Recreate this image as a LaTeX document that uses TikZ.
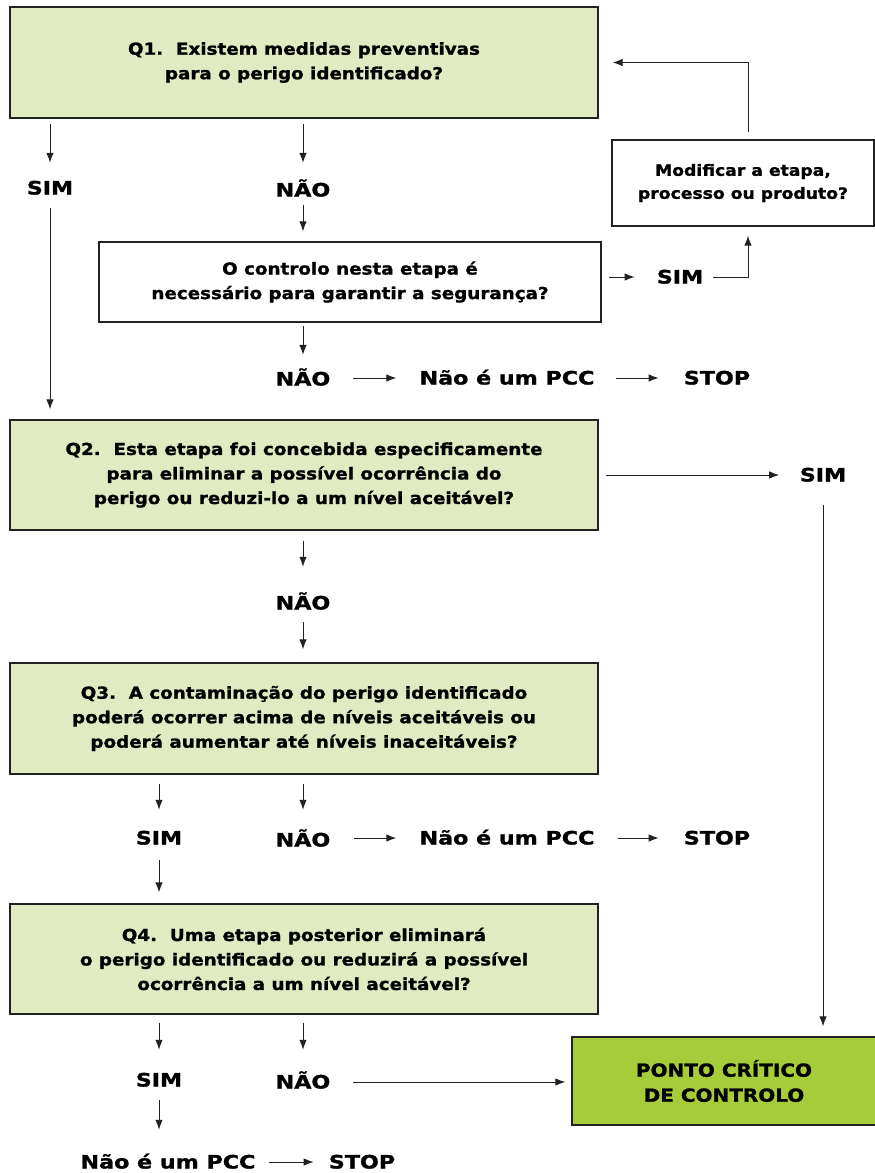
\documentclass[tikz,border=0pt]{standalone}
\usepackage{fontspec}
\setmainfont{DejaVu Sans}
\newfontfamily\boxfont{DejaVu Sans}[FakeStretch=1.11, FakeBold=1.2]
\newfontfamily\lblfont{DejaVu Sans}[FakeStretch=1.2, FakeBold=1.4]
\usetikzlibrary{arrows.meta}
\definecolor{qgreen}{HTML}{E1EBC2}
\definecolor{pccgreen}{HTML}{A7CC3A}
\definecolor{edge}{HTML}{222222}

\begin{document}
\begin{tikzpicture}[x=1pt, y=-1pt,
			q/.style={draw=edge, line width=1.3pt, fill=qgreen, minimum width=588pt, minimum height=111pt,
				align=center, font=\boxfont\bfseries\fontsize{16.5}{24.5}\selectfont},
			wbox/.style={q, fill=white},
			lbl/.style={inner sep=0pt, text height=13pt, text depth=0pt, font=\lblfont\bfseries\fontsize{18.5}{20}\selectfont},
			arr/.style={-{Latex[length=10pt,width=7.5pt]}, line width=1pt, draw=edge}]
			\useasboundingbox (0,0) rectangle (875,1173);

			% question boxes
			\node[q] (q1) at (304,62.5) {Q1.~~Existem medidas preventivas\\para o perigo identificado?};
			\node[wbox, minimum width=502pt, minimum height=80pt] (ctl) at (350,282)
				{O controlo nesta etapa é\\necessário para garantir a segurança?};
			\node[wbox, minimum width=262pt, minimum height=86pt, font=\boxfont\bfseries\fontsize{15.5}{23}\selectfont] (mod) at (743,183)
				{Modificar a etapa,\\processo ou produto?};
			\node[q, minimum height=110pt] (q2) at (304,475) {Q2.~~Esta etapa foi concebida especificamente\\para eliminar a possível ocorrência do\\perigo ou reduzi-lo a um nível aceitável?};
			\node[q] (q3) at (304,718.5) {Q3.~~A contaminação do perigo identificado\\poderá ocorrer acima de níveis aceitáveis ou\\poderá aumentar até níveis inaceitáveis?};
			\node[q, minimum height=110pt] (q4) at (304,959) {Q4.~~Uma etapa posterior eliminará\\o perigo identificado ou reduzirá a possível\\ocorrência a um nível aceitável?};
			\node[q, fill=pccgreen, minimum width=304pt, minimum height=88pt, font=\boxfont\bfseries\fontsize{18}{25}\selectfont] (pcc) at (724,1081)
				{PONTO CRÍTICO\\DE CONTROLO};

			% answers
			\node[lbl] (sim1) at (50,188) {SIM};
			\node[lbl] (nao1) at (303,190) {NÃO};
			\node[lbl] (sim2) at (680,277) {SIM};
			\node[lbl] (nao2) at (303,379) {NÃO};
			\node[lbl] (npcc1) at (507,378) {Não é um PCC};
			\node[lbl] (stop1) at (717,378) {STOP};
			\node[lbl] (sim3) at (823,475) {SIM};
			\node[lbl] (nao3) at (303,603) {NÃO};
			\node[lbl] (sim4) at (159,838) {SIM};
			\node[lbl] (nao4) at (303,840) {NÃO};
			\node[lbl] (npcc2) at (507,838) {Não é um PCC};
			\node[lbl] (stop2) at (717,838) {STOP};
			\node[lbl] (sim5) at (159,1080) {SIM};
			\node[lbl] (nao5) at (303,1082) {NÃO};
			\node[lbl] (npcc3) at (168,1162) {Não é um PCC};
			\node[lbl] (stop3) at (362,1162) {STOP};

			% Q1
			\draw[arr, shorten <=5pt, shorten >=18.5pt] (sim1 |- q1.south) -- (sim1);
			\draw[arr, shorten <=13.5pt, shorten >=10pt] (sim1) -- (sim1 |- q2.north);
			\draw[arr, shorten <=5pt, shorten >=20.5pt] (nao1 |- q1.south) -- (nao1);
			\draw[arr, shorten <=8.5pt, shorten >=10pt] (nao1) -- (nao1 |- ctl.north);
			\draw[arr, shorten <=7pt, shorten >=22pt] (ctl.east |- sim2) -- (sim2);
			\draw[arr, shorten <=10pt, shorten >=9pt] (sim2.east) -| ([xshift=5pt]mod.south);
			\draw[arr, shorten <=7pt, shorten >=14pt] ([xshift=5pt]mod.north) |- (q1.east);
			\draw[arr, shorten <=3pt, shorten >=17.5pt] (nao2 |- ctl.south) -- (nao2);
			\draw[arr, shorten <=22.5pt, shorten >=23pt] (nao2.east |- npcc1) -- (npcc1.west);
			\draw[arr, shorten <=21pt, shorten >=25pt] (npcc1.east) -- (stop1.west);
			% Q2
			\draw[arr, shorten <=7pt, shorten >=20.5pt] (q2.east |- sim3) -- (sim3);
			\draw[arr, shorten <=23.5pt, shorten >=10pt] (sim3) -- (sim3 |- pcc.north);
			\draw[arr, shorten <=10pt, shorten >=29.5pt] (nao3 |- q2.south) -- (nao3);
			\draw[arr, shorten <=12.5pt, shorten >=13pt] (nao3) -- (nao3 |- q3.north);
			% Q3
			\draw[arr, shorten <=9pt, shorten >=21.5pt] (sim4 |- q3.south) -- (sim4);
			\draw[arr, shorten <=9pt, shorten >=23.5pt] (nao4 |- q3.south) -- (nao4);
			\draw[arr, shorten <=23.5pt, shorten >=23pt] (nao4.east |- npcc2) -- (npcc2.west);
			\draw[arr, shorten <=23pt, shorten >=25pt] (npcc2.east) -- (stop2.west);
			\draw[arr, shorten <=15.5pt, shorten >=11pt] (sim4) -- (sim4 |- q4.north);
			% Q4
			\draw[arr, shorten <=8pt, shorten >=23.5pt] (sim5 |- q4.south) -- (sim5);
			\draw[arr, shorten <=8pt, shorten >=25.5pt] (nao5 |- q4.south) -- (nao5);
			\draw[arr, shorten <=22.5pt, shorten >=6pt] (nao5.east) -- (pcc.west |- nao5);
			\draw[arr, shorten <=13.5pt, shorten >=25.5pt] (sim5) -- (sim5 |- npcc3.north);
			\draw[arr, shorten <=13pt, shorten >=15pt] (npcc3.east) -- (stop3.west);
		\end{tikzpicture}
\end{document}
